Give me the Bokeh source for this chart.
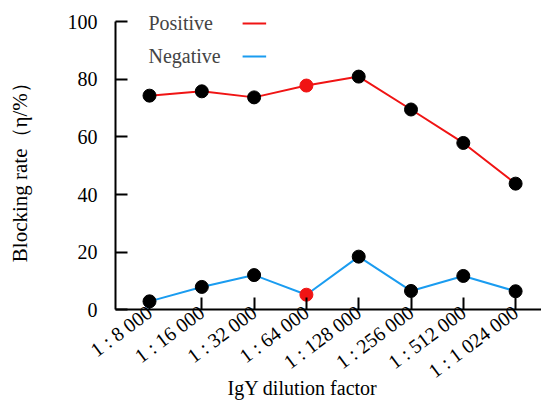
import math
from bokeh.plotting import figure
from bokeh.models import FixedTicker, Range1d, Label, ColumnDataSource
from bokeh.embed import file_html
from bokeh.resources import INLINE

categories = ["1 : 8 000", "1 : 16 000", "1 : 32 000", "1 : 64 000",
              "1 : 128 000", "1 : 256 000", "1 : 512 000", "1 : 1 024 000"]
positive = [74.3, 75.8, 73.7, 77.8, 80.9, 69.5, 57.9, 43.8]
negative = [3.0, 8.0, 12.1, 5.3, 18.5, 6.6, 11.8, 6.5]
highlight = "1 : 64 000"
y_ticks = [0, 20, 40, 60, 80, 100]

FONT = "Liberation Serif"
RED = "#f01414"
BLUE = "#1a9cf0"

xs = list(range(len(categories)))
mcol = [RED if c == highlight else "black" for c in categories]

X0, X1 = -2.849, 7.495     # whole canvas is the frame
Y0, Y1 = -32.41, 107.28
AX_X = -0.65               # where the y axis sits

p = figure(width=541, height=403, output_backend="svg", toolbar_location=None,
           x_range=Range1d(X0, X1), y_range=Range1d(Y0, Y1),
           min_border_left=0, min_border_right=0, min_border_top=0,
           min_border_bottom=0)
p.outline_line_color = None
p.xgrid.visible = False
p.ygrid.visible = False

p.line(xs, positive, line_color=RED, line_width=2)
p.line(xs, negative, line_color=BLUE, line_width=2)
src_p = ColumnDataSource(dict(x=xs, y=positive, c=mcol))
src_n = ColumnDataSource(dict(x=xs, y=negative, c=mcol))
p.scatter("x", "y", source=src_p, size=13, fill_color="c", line_color="c")
p.scatter("x", "y", source=src_n, size=13, fill_color="c", line_color="c")

# axes
for ax in (p.xaxis[0], p.yaxis[0]):
    ax.axis_line_width = 2
    ax.axis_line_color = "black"
    ax.major_tick_line_width = 2
    ax.major_tick_line_color = "black"
    ax.major_tick_in = 12
    ax.major_tick_out = 0
    ax.minor_tick_line_color = None
    ax.major_label_text_font = FONT
    ax.major_label_text_font_size = "20px"
    ax.major_label_text_color = "black"

p.xaxis.ticker = FixedTicker(ticks=xs)
p.xaxis.major_label_overrides = {i: c for i, c in enumerate(categories)}
p.xaxis.major_label_orientation = 0.64
p.xaxis.major_label_standoff = 0
p.xaxis.fixed_location = 0
p.xaxis.bounds = (AX_X, X1)

p.yaxis.ticker = FixedTicker(ticks=y_ticks)
p.yaxis.fixed_location = AX_X
p.yaxis.bounds = (0, 100)
p.yaxis.major_label_standoff = 18

# axis titles
p.add_layout(Label(x=-2.47, y=49.5, text="Blocking rate（η/%）", text_font=FONT,
                   text_font_size="21px", text_align="center",
                   text_baseline="middle", angle=math.pi / 2, text_color="black"))
p.add_layout(Label(x=2.925, y=-27.0, text="IgY dilution factor", text_font=FONT,
                   text_font_size="20px", text_align="center",
                   text_baseline="middle", text_color="black"))

# legend (text first, then line sample)
p.add_layout(Label(x=-0.02, y=99.6, text="Positive", text_font=FONT,
                   text_font_size="20px", text_baseline="middle"))
p.add_layout(Label(x=-0.02, y=88.2, text="Negative", text_font=FONT,
                   text_font_size="20px", text_baseline="middle"))
p.segment(x0=[1.78], y0=[99.3], x1=[2.23], y1=[99.3], line_color=RED, line_width=2)
p.segment(x0=[1.78], y0=[87.9], x1=[2.23], y1=[87.9], line_color=BLUE, line_width=2)

open("out.html", "w").write(file_html(p, INLINE))
